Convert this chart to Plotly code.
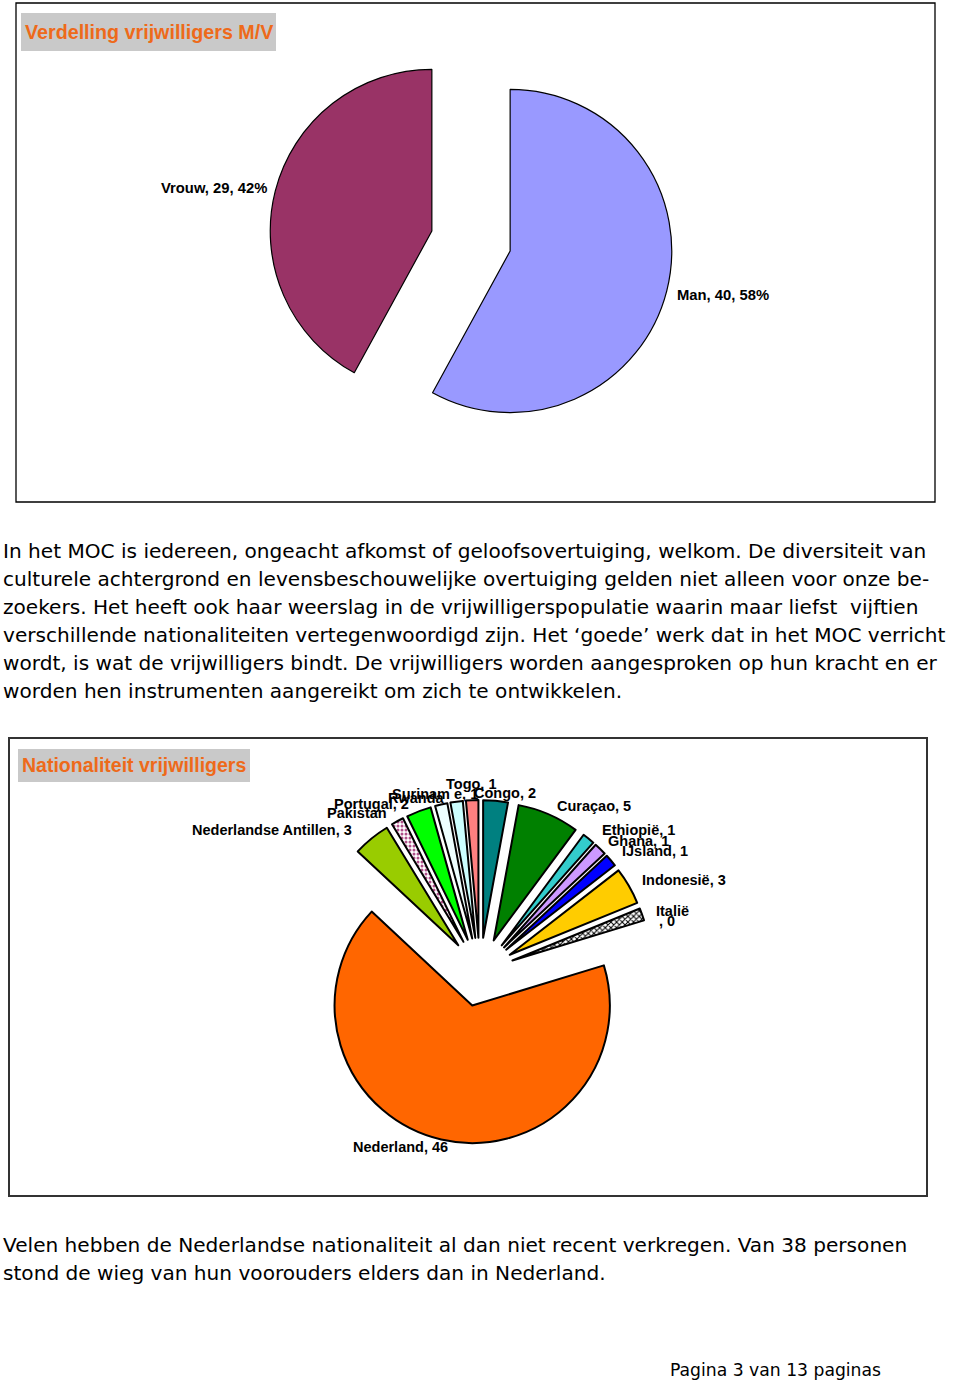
import plotly.graph_objects as go

W, H = 960, 1384

# ---------- data ----------
gender_labels = ["Man", "Vrouw"]
gender_values = [40, 29]
gender_pct = ["58%", "42%"]
gender_colors = ["#9999FF", "#993366"]

nat_names = ["Congo", "Curaçao", "Ethiopië", "Ghana", "IJsland", "Indonesië", "Italië",
             "Nederland", "Nederlandse Antillen", "Pakistan", "Portugal", "Rwanda",
             "Suriname", "Togo"]
nat_values = [2, 5, 1, 1, 1, 3, 1, 46, 3, 1, 2, 1, 1, 1]
nat_label_text = ["Congo, 2", "Curaçao, 5", "Ethiopië, 1", "Ghana, 1", "IJsland, 1",
                  "Indonesië, 3", "Italië|, 0", "Nederland, 46", "Nederlandse Antillen, 3",
                  "Pakistan", "Portugal, 2", "Rwanda", "Surinam e, 1", "Togo, 1"]
nat_colors = ["#008080", "#008000", "#33CCCC", "#CC99FF", "#0000FF", "#FFCC00", "#FFFFFF",
              "#FF6600", "#99CC00", "#FFFFFF", "#00FF00", "#EEFFFF", "#CCFFFF", "#FF8080"]
nat_pattern = ["", "", "", "", "", "", "x", "", "", ".", "", "", "", ""]
nat_pattern_fg = ["#000", "#000", "#000", "#000", "#000", "#000", "#000", "#000", "#000",
                  "#B0508A", "#000", "#000", "#000", "#000"]

para1 = [
    "In het MOC is iedereen, ongeacht afkomst of geloofsovertuiging, welkom. De diversiteit van",
    "culturele achtergrond en levensbeschouwelijke overtuiging gelden niet alleen voor onze be-",
    "zoekers. Het heeft ook haar weerslag in de vrijwilligerspopulatie waarin maar liefst  vijftien",
    "verschillende nationaliteiten vertegenwoordigd zijn. Het \u2018goede\u2019 werk dat in het MOC verricht",
    "wordt, is wat de vrijwilligers bindt. De vrijwilligers worden aangesproken op hun kracht en er",
    "worden hen instrumenten aangereikt om zich te ontwikkelen.",
]
para2 = [
    "Velen hebben de Nederlandse nationaliteit al dan niet recent verkregen. Van 38 personen",
    "stond de wieg van hun voorouders elders dan in Nederland.",
]
footer = "Pagina 3 van 13 paginas"


def px(x):
    return x / W


def py(y):
    return 1 - y / H


fig = go.Figure()

# ---------- pie 1 ----------
fig.add_trace(go.Pie(
    labels=gender_labels, values=gender_values, sort=False, direction="clockwise",
    rotation=0, pull=[0.25, 0.25], textinfo="none", hoverinfo="skip",
    marker=dict(colors=gender_colors, line=dict(color="#000000", width=1.2)),
    domain=dict(x=[px(269), px(673)], y=[py(443), py(39)]),
    showlegend=False,
))

# ---------- pie 2 ----------
fig.add_trace(go.Pie(
    labels=nat_names, values=nat_values, sort=False, direction="clockwise",
    rotation=0, pull=[0.25] * len(nat_values), textinfo="none", hoverinfo="skip",
    marker=dict(colors=nat_colors, line=dict(color="#000000", width=2),
                pattern=dict(shape=nat_pattern, fgcolor=nat_pattern_fg, size=4, solidity=0.45)),
    domain=dict(x=[px(308), px(652)], y=[py(1144), py(800)]),
    showlegend=False,
))

shapes = []
annotations = []

# frames
shapes.append(dict(type="rect", xref="paper", yref="paper", x0=px(16), x1=px(935),
                   y0=py(502), y1=py(3), line=dict(color="#000", width=1.3)))
shapes.append(dict(type="rect", xref="paper", yref="paper", x0=px(9), x1=px(927),
                   y0=py(1196), y1=py(738), line=dict(color="#333", width=2)))
# title boxes
shapes.append(dict(type="rect", xref="paper", yref="paper", x0=px(21), x1=px(276),
                   y0=py(51), y1=py(13), fillcolor="#C9C9C9", line=dict(width=0), layer="below"))
shapes.append(dict(type="rect", xref="paper", yref="paper", x0=px(18), x1=px(250),
                   y0=py(782), y1=py(749), fillcolor="#C9C9C9", line=dict(width=0), layer="below"))

orange = "#EE6A1A"


def txt(text, x, y, size, bold=False, family="Liberation Sans", color="#000", anchor="left"):
    annotations.append(dict(
        text=f"<b>{text}</b>" if bold else text, x=px(x), y=py(y), xref="paper", yref="paper",
        xanchor=anchor, yanchor="middle", showarrow=False, align="left",
        font=dict(family=family, size=size, color=color)))


txt("Verdelling vrijwilligers M/V", 23, 32, 19.7, bold=True, color=orange)
txt("Nationaliteit vrijwilligers", 20, 765, 19.5, bold=True, color=orange)

# pie 1 labels
g_lab_pos = [(675, 295), (159, 188)]
for lab, val, pct, (lx, ly) in zip(gender_labels, gender_values, gender_pct, g_lab_pos):
    txt(f"{lab}, {val}, {pct}", lx, ly, 14.8, bold=True)

# pie 2 labels (left edge x, centre y)
n_lab_pos = [(472, 793), (555, 806), (600, 830), (606, 841), (620, 851), (640, 880),
             (654, 911), (351, 1147), (190, 830), (325, 813), (332, 804), (386, 798),
             (390, 794), (444, 784)]
for t, (lx, ly) in zip(nat_label_text, n_lab_pos):
    if "|" in t:
        first, second = t.split("|")
        txt(first, lx, ly, 14.5, bold=True)
        txt(second, lx + 3, ly + 10, 14.5, bold=True)
    else:
        txt(t, lx, ly, 14.5, bold=True)

# body text
body_font = "DejaVu Sans"
for i, line in enumerate(para1):
    txt(line, 1, 551 + 28 * i, 20.1, family=body_font)
for i, line in enumerate(para2):
    txt(line, 1, 1245 + 28 * i, 20.1, family=body_font)
txt(footer, 668, 1370, 17.2, family=body_font)

fig.update_layout(
    width=W, height=H, margin=dict(l=0, r=0, t=0, b=0),
    paper_bgcolor="#FFFFFF", plot_bgcolor="#FFFFFF",
    shapes=shapes, annotations=annotations, showlegend=False,
)

fig.write_html("out.html")
